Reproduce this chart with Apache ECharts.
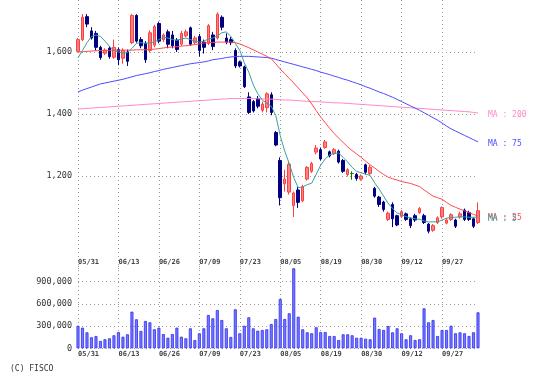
<!DOCTYPE html>
<html><head><meta charset="utf-8">
<script src="https://cdn.jsdelivr.net/npm/echarts@6/dist/echarts.min.js"></script>
<style>html,body{margin:0;padding:0;background:#fff}#c{width:546px;height:380px}</style>
</head><body><div id="c"></div>
<script>
const dates = ['05/31',
'06/03','06/04','06/05','06/06','06/07','06/10','06/11','06/12','06/13','06/14','06/17','06/18','06/19','06/20','06/21','06/24','06/25','06/26','06/27','06/28',
'07/01','07/02','07/03','07/04','07/05','07/08','07/09','07/10','07/11','07/12','07/16','07/17','07/18','07/19','07/22','07/23','07/24','07/25','07/26','07/29','07/30','07/31',
'08/01','08/02','08/05','08/06','08/07','08/08','08/09','08/13','08/14','08/15','08/16','08/19','08/20','08/21','08/22','08/23','08/26','08/27','08/28','08/29','08/30',
'09/02','09/03','09/04','09/05','09/06','09/09','09/10','09/11','09/12','09/13','09/17','09/18','09/19','09/20','09/24','09/25','09/26','09/27','09/30',
'10/01','10/02','10/03','10/04','10/07','10/08','10/09'];

const opens = [1602,1640,1714,1668,1660,1615,1596,1612,1583,1608, 1580,1600,1630,1718,1640,1628,1605,1622,1692,1640,
 1665,1655,1638,1625,1652,1678,1630,1650,1632,1628, 1655,1645,1712,1645,1640,1605,1568,1552,1455,1440,
 1450,1412,1420,1462,1340,1250,1175,1148,1105,1155, 1120,1190,1215,1277,1285,1292,1278,1272,1280,1250,
 1205,1208,1205,1190,1236,1208,1160,1132,1116,1060, 1108,1072,1070,1078,1062,1072,1082,1072,1045,1025,
 1050,1068,1048,1060,1058,1068,1090,1082,1062,1050];
const closes = [1640,1712,1690,1645,1615,1582,1606,1585,1615,1575, 1605,1570,1718,1635,1620,1575,1662,1682,1635,1655,
 1625,1620,1608,1660,1665,1625,1645,1605,1615,1685, 1618,1722,1680,1632,1630,1555,1555,1488,1405,1410,
 1425,1432,1465,1405,1300,1130,1190,1238,1145,1115, 1165,1228,1240,1290,1255,1310,1265,1285,1245,1215,
 1220,1208,1192,1200,1212,1228,1135,1108,1092,1080, 1062,1042,1085,1060,1040,1058,1095,1050,1022,1040,
 1065,1098,1058,1075,1038,1078,1060,1060,1038,1088];
const highs = [1645,1722,1722,1680,1668,1620,1612,1618,1640,1615, 1612,1608,1722,1722,1648,1635,1670,1688,1698,1660,
 1672,1668,1645,1668,1672,1682,1652,1658,1640,1690, 1665,1728,1718,1660,1648,1612,1572,1556,1470,1445,
 1458,1440,1470,1470,1345,1260,1220,1245,1150,1165, 1172,1232,1246,1300,1292,1316,1282,1290,1285,1255,
 1225,1215,1210,1205,1240,1235,1165,1136,1120,1085, 1115,1075,1090,1082,1066,1078,1100,1078,1048,1045,
 1070,1102,1064,1080,1062,1085,1095,1088,1066,1115];
const lows = [1598,1635,1680,1640,1605,1575,1590,1578,1578,1557, 1562,1555,1625,1630,1612,1565,1598,1615,1628,1632,
 1612,1612,1600,1620,1648,1620,1625,1585,1595,1622, 1606,1640,1670,1625,1622,1548,1550,1484,1400,1405,
 1418,1405,1405,1396,1296,1105,1150,1140,1068,1097, 1115,1185,1210,1270,1250,1288,1260,1268,1240,1210,
 1198,1188,1185,1185,1205,1202,1130,1100,1085,1055, 1035,1038,1065,1055,1032,1052,1078,1045,1015,1020,
 1045,1062,1044,1055,1032,1062,1055,1055,1032,1045];

const ma5 = [1581,1605,1630,1650,1655,1650,1635,1618,1605,1600, 1597,1598,1612,1628,1630,1628,1630,1632,1640,1648,
 1645,1640,1638,1642,1645,1640,1635,1632,1635,1642, 1645,1652,1662,1665,1650,1628,1605,1565,1535,1494,
 1465,1445,1435,1425,1395,1330,1280,1240,1195,1162, 1165,1172,1177,1205,1235,1255,1268,1273,1274,1260,
 1245,1228,1215,1210,1206,1202,1178,1158,1135,1112, 1095,1081,1075,1069,1065,1062,1060,1055,1052,1052,
 1052,1058,1064,1066,1067,1068,1068,1067,1067,1067];
const ma25 = [1600,1601,1602,1603,1604,1605,1605,1605,1606,1606, 1606,1606,1606,1607,1607,1607,1608,1609,1611,1613,
 1615,1616,1617,1619,1620,1622,1624,1626,1629,1630, 1631,1632,1632,1632,1632,1630,1626,1620,1614,1607,
 1600,1593,1586,1578,1562,1545,1530,1515,1500,1484, 1468,1452,1432,1411,1390,1372,1354,1337,1322,1308,
 1294,1282,1271,1260,1248,1236,1226,1215,1205,1196, 1191,1187,1182,1179,1176,1171,1166,1155,1145,1135,
 1130,1125,1115,1105,1099,1093,1088,1082,1076,1071];
const ma75 = [1471,1477,1482,1487,1492,1497,1500,1503,1506,1509, 1512,1516,1520,1524,1527,1530,1533,1537,1540,1544,
 1547,1550,1553,1556,1559,1562,1564,1566,1568,1571, 1575,1577,1579,1582,1584,1585,1586,1586,1586,1585,
 1584,1583,1582,1580,1576,1572,1568,1564,1560,1556, 1552,1548,1544,1540,1535,1531,1527,1522,1518,1513,
 1509,1504,1499,1494,1488,1483,1477,1471,1466,1460, 1454,1447,1440,1433,1426,1419,1412,1404,1396,1388,
 1380,1371,1361,1352,1345,1338,1331,1324,1317,1310];
const ma200 = [1416,1417,1418,1419,1420,1421,1422,1423,1424,1425, 1426,1427,1428,1429,1430,1431,1432,1433,1434,1435,
 1436,1437,1438,1439,1440,1441,1442,1443,1444,1445, 1446,1447,1448,1449,1450,1450,1450,1450,1450,1450,
 1449,1449,1448,1448,1447,1446,1445,1445,1444,1443, 1442,1441,1440,1440,1439,1438,1437,1436,1436,1435,
 1434,1433,1432,1431,1430,1429,1428,1427,1426,1425, 1424,1423,1422,1421,1420,1419,1418,1417,1416,1415,
 1414,1413,1412,1411,1410,1409,1408,1407,1405,1403];

const volumes = [305000,279000,216000,149000,166000,99000,122000,135000,176000,220000,
 157000,189000,495000,392000,234000,369000,351000,257000,279000,193000,
 143000,193000,279000,157000,135000,270000,112000,203000,270000,450000,
 405000,517000,382000,270000,153000,527000,203000,305000,419000,270000,
 238000,247000,257000,328000,396000,666000,396000,473000,1081000,427000,
 257000,216000,203000,284000,220000,220000,166000,166000,112000,189000,
 189000,176000,143000,143000,130000,122000,414000,261000,247000,301000,
 216000,270000,203000,122000,176000,112000,122000,540000,351000,382000,
 166000,247000,247000,305000,203000,216000,203000,166000,216000,486000];

const priceTicks = [1200, 1400, 1600];
const volumeTicks = [0, 300000, 600000, 900000];

const candles = opens.map((o, i) => [o, closes[i], lows[i], highs[i]]);
const mono = 'DejaVu Sans Mono';
const every9 = (i) => i % 9 === 0;
const fmt = (v) => Math.round(v).toString().replace(/\B(?=(\d{3})+(?!\d))/g, ',');
const dotted = {color: '#9a9a9a', width: 1, type: [1, 3]};

function maSeries(name, data, color, label) {
  return {
    name: name, type: 'line', xAxisIndex: 0, yAxisIndex: 0, data: data,
    showSymbol: false, symbol: 'none', smooth: false,
    lineStyle: {color: color, width: 1}, itemStyle: {color: color},
    endLabel: {show: true, formatter: label, color: color, fontFamily: mono, fontSize: 8, distance: 10, offset: [0, 2]},
    z: 3
  };
}

const chart = echarts.init(document.getElementById('c'), null, {renderer: 'canvas'});
chart.setOption({
  animation: false,
  backgroundColor: '#ffffff',
  title: {text: '(C) FISCO', left: 5, top: 360,
    textStyle: {fontFamily: mono, fontSize: 8, fontWeight: 'normal', color: '#333'}},
  grid: [
    {left: 78, right: 68, top: 0, height: 269},
    {left: 78, right: 68, top: 266, height: 82.3}
  ],
  xAxis: [
    {type: 'category', gridIndex: 0, data: dates, boundaryGap: false,
     axisLine: {show: false}, axisTick: {show: false},
     axisLabel: {inside: true, interval: every9, align: 'left', margin: 3,
       fontFamily: mono, fontSize: 7, fontWeight: 'bold', color: '#444'},
     splitLine: {show: true, interval: every9, lineStyle: dotted}},
    {type: 'category', gridIndex: 1, data: dates, boundaryGap: false,
     axisLine: {show: false}, axisTick: {show: false},
     axisLabel: {interval: every9, align: 'left', margin: 2,
       fontFamily: mono, fontSize: 7, fontWeight: 'bold', color: '#444'},
     splitLine: {show: true, interval: every9, lineStyle: dotted}}
  ],
  yAxis: [
    {type: 'value', gridIndex: 0, min: 900, max: 1767.7, interval: 100,
     axisLine: {show: false}, axisTick: {show: false},
     axisLabel: {margin: 6, fontFamily: mono, fontSize: 8.5, color: '#333',
       formatter: (v) => priceTicks.indexOf(Math.round(v)) >= 0 ? fmt(v) : ''},
     splitLine: {show: true, lineStyle: {width: 1, type: [1, 3],
       color: ['rgba(0,0,0,0)','rgba(0,0,0,0)','rgba(0,0,0,0)','#9a9a9a','rgba(0,0,0,0)','#9a9a9a','rgba(0,0,0,0)','#9a9a9a','rgba(0,0,0,0)','rgba(0,0,0,0)']}}},
    {type: 'value', gridIndex: 1, min: 0, max: 1112000, interval: 300000,
     axisLine: {show: false}, axisTick: {show: false},
     axisLabel: {margin: 6, fontFamily: mono, fontSize: 8.5, color: '#333',
       formatter: (v) => volumeTicks.indexOf(Math.round(v)) >= 0 ? fmt(v) : ''},
     splitLine: {show: true, lineStyle: {width: 1, type: [1, 3],
       color: ['#9a9a9a','#9a9a9a','#9a9a9a','#9a9a9a','rgba(0,0,0,0)']}}}
  ],
  series: [
    {name: 'price', type: 'candlestick', xAxisIndex: 0, yAxisIndex: 0, data: candles,
     barWidth: 3, clip: false,
     itemStyle: {color: '#ff8080', color0: '#000080', borderColor: '#ff4040', borderColor0: '#000080',
       borderColorDoji: '#008000', borderWidth: 1}, z: 2},
    maSeries('MA200', ma200, '#ff88c8', 'MA : 200'),
    maSeries('MA75', ma75, '#4c4cff', 'MA : 75'),
    maSeries('MA25', ma25, '#ff4a4a', 'MA : 25'),
    maSeries('MA5', ma5, '#3aa0a0', 'MA : 5'),
    {name: 'volume', type: 'bar', xAxisIndex: 1, yAxisIndex: 1, data: volumes,
     barWidth: 3,
     itemStyle: {color: '#7878ff', borderColor: '#3030f0', borderWidth: 0.8}}
  ]
});
</script></body></html>
